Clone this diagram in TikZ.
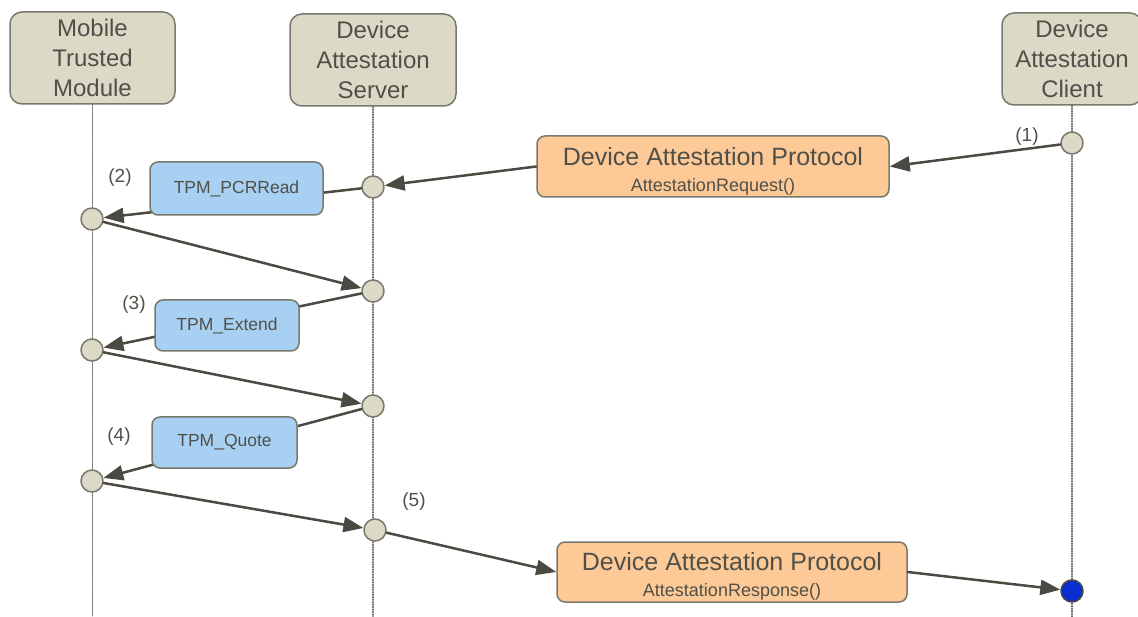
\documentclass[tikz,border=0pt]{standalone}
\usepackage{fontspec}
\setmainfont{Liberation Sans}
\usetikzlibrary{arrows.meta}
\definecolor{actorfill}{RGB}{221,217,199}
\definecolor{boxline}{RGB}{120,120,108}
\definecolor{txt}{RGB}{80,80,72}
\definecolor{orangefill}{RGB}{252,201,151}
\definecolor{bluefill}{RGB}{168,208,242}
\definecolor{arrowcol}{RGB}{74,74,66}
\definecolor{dotblue}{RGB}{10,47,208}

\begin{document}
\begin{tikzpicture}[x=1pt,y=-1pt,line cap=round,line join=round,
    actor/.style={draw=boxline,fill=actorfill,rounded corners=12pt,line width=1.5pt,text=txt,align=center,
        font=\fontsize{24}{30}\selectfont,minimum height=92pt,inner sep=0pt},
    lifeline/.style={draw=arrowcol!80,line width=1.2pt,dash pattern=on 1pt off 1.5pt},
    event/.style={circle,draw=boxline,fill=actorfill,line width=1.5pt,minimum size=22pt,inner sep=0pt},
    protocol/.style={draw=boxline,fill=orangefill,rounded corners=8pt,line width=1.5pt,text=txt,align=center,
        font=\fontsize{25}{26}\selectfont,minimum width=352pt,minimum height=61pt,inner sep=0pt},
    tpmcall/.style={draw=boxline,fill=bluefill,rounded corners=8pt,line width=1.5pt,text=txt,
        font=\fontsize{17.5}{20}\selectfont,minimum height=52pt,inner sep=0pt},
    msg/.style={draw=arrowcol,line width=2.5pt,-{Triangle[length=20pt,width=15pt]}},
    steplabel/.style={text=txt,font=\fontsize{19}{20}\selectfont,inner sep=0pt}]

    \useasboundingbox (0,0) rectangle (1138,617);
    \clip (0,0) rectangle (1138,617);
    \fill[white] (0,0) rectangle (1138,617);

    % lifeline heads
    \node[actor,minimum width=165pt] (mtm) at (92.5,58) {Mobile\\Trusted\\Module};
    \node[actor,minimum width=166pt] (das) at (373,60) {Device\\Attestation\\Server};
    \node[actor,minimum width=140pt] (dac) at (1072,59) {Device\\Attestation\\Client};
    \coordinate (bottom) at (0,617);

    \draw[lifeline] (mtm.south) -- (mtm.south |- bottom);
    \draw[lifeline] (das.south) -- (das.south |- bottom);
    \draw[lifeline] (dac.south) -- (dac.south |- bottom);

    % events on the lifelines
    \node[event] (cli1) at (1072,143) {};
    \node[event] (srv1) at (373,187) {};
    \node[event] (mtm1) at (92,219) {};
    \node[event] (srv2) at (373,291) {};
    \node[event] (mtm2) at (92,350) {};
    \node[event] (srv3) at (373,406) {};
    \node[event] (mtm3) at (92,481) {};
    \node[event] (srv4) at (375,530) {};
    \node[event,fill=dotblue,draw=arrowcol] (cli2) at (1072,591) {};

    % protocol messages
    \node[protocol] (req) at (713,166.5) {\rule{0pt}{27pt}Device Attestation Protocol\\\fontsize{18}{26}\selectfont AttestationRequest()};
    \node[protocol,minimum width=350pt,minimum height=60pt] (resp) at (732,572) {\rule{0pt}{27pt}Device Attestation Protocol\\\fontsize{18}{26}\selectfont AttestationResponse()};

    \draw[msg] (cli1) -- (req.east);
    \draw[msg] (req.west) -- (srv1);
    \draw[msg] (srv4) -- (resp.west);
    \draw[msg] (resp.east) -- (cli2);

    % TPM commands
    \draw[msg] (srv1) -- (mtm1);
    \draw[msg] (mtm1) -- (srv2);
    \draw[msg] (srv2) -- (mtm2);
    \draw[msg] (mtm2) -- (srv3);
    \draw[msg] (srv3) -- (mtm3);
    \draw[msg] (mtm3) -- (srv4);

    \node[tpmcall,minimum width=173pt,minimum height=53pt] (pcrread) at (236.5,188.5) {TPM\_PCRRead};
    \node[tpmcall,minimum width=144pt,minimum height=51pt] (extend) at (227,325.5) {TPM\_Extend};
    \node[tpmcall,minimum width=145pt,minimum height=51pt] (quote) at (224.5,442.5) {TPM\_Quote};

    % step numbers
    \node[steplabel] (s1) at (1027,137) {(1)};
    \node[steplabel] (s2) at (120,178) {(2)};
    \node[steplabel] (s3) at (134,305) {(3)};
    \node[steplabel] (s4) at (119,437) {(4)};
    \node[steplabel] (s5) at (414,502) {(5)};
\end{tikzpicture}
\end{document}
